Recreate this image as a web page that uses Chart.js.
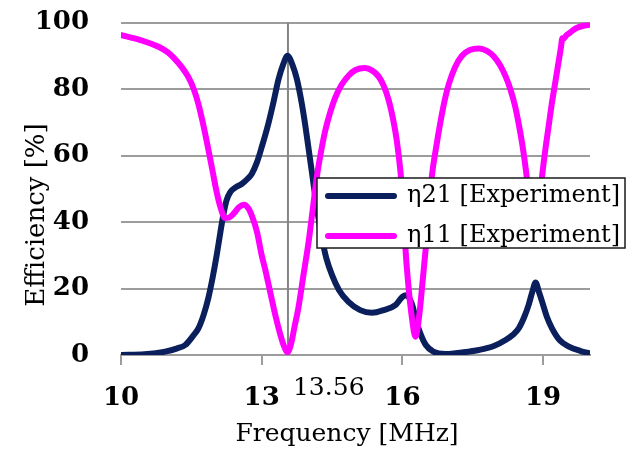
<!DOCTYPE html>
<html>
<head>
<meta charset="utf-8">
<script src="https://cdn.jsdelivr.net/npm/chart.js@4.4.1/dist/chart.umd.min.js"></script>
<style>
  html, body { margin: 0; padding: 0; background: #ffffff; }
  #wrap { width: 635px; height: 453px; }
</style>
</head>
<body>
<div id="wrap"><canvas id="chart" width="635" height="453"></canvas></div>
<script>
// Measured transmission efficiency (η21) versus frequency
const eta21Freq = [10.0, 10.5, 10.94, 11.2, 11.37, 11.55, 11.65, 11.76, 11.86, 11.95, 12.04, 12.12, 12.18, 12.25, 12.33, 12.45, 12.58, 12.7, 12.79, 12.9, 13.0, 13.14, 13.25, 13.36, 13.46, 13.55, 13.65, 13.75, 13.85, 13.93, 14.0, 14.07, 14.18, 14.28, 14.38, 14.5, 14.65, 14.85, 15.1, 15.35, 15.6, 15.85, 16.0, 16.08, 16.2, 16.3, 16.38, 16.5, 16.66, 16.92, 17.3, 17.63, 17.95, 18.2, 18.35, 18.48, 18.6, 18.69, 18.77, 18.84, 18.91, 18.98, 19.08, 19.19, 19.35, 19.55, 19.8, 20.0];
const eta21 = [0, 0.2, 1, 2, 3, 6, 8, 12, 17, 23, 30, 37, 42, 46.5, 49, 50.5, 51.5, 53, 54.5, 58, 62.5, 69.5, 76, 83, 87.5, 90, 87.5, 83, 76, 69, 62, 55, 44, 35.5, 29, 24, 19.5, 16, 13.5, 12.7, 13.5, 15, 17.5, 18, 15.5, 10, 6.6, 3, 1, 0.3, 0.8, 1.5, 2.7, 4.5, 6, 8, 11.5, 15, 19, 21.8, 19, 16, 11.5, 8, 4.5, 2.5, 1.2, 0.5];

// Measured reflection efficiency (η11) versus frequency
const eta11Freq = [10.0, 10.4, 10.8, 11.0, 11.15, 11.3, 11.44, 11.55, 11.65, 11.75, 11.86, 11.95, 12.04, 12.12, 12.22, 12.3, 12.4, 12.52, 12.62, 12.72, 12.8, 12.9, 13.0, 13.07, 13.18, 13.29, 13.4, 13.48, 13.55, 13.62, 13.7, 13.78, 13.89, 14.0, 14.09, 14.18, 14.27, 14.35, 14.46, 14.57, 14.7, 14.85, 15.0, 15.2, 15.35, 15.49, 15.6, 15.71, 15.8, 15.88, 15.96, 16.01, 16.06, 16.12, 16.2, 16.28, 16.36, 16.43, 16.49, 16.56, 16.63, 16.72, 16.81, 16.9, 16.99, 17.12, 17.27, 17.45, 17.63, 17.8, 17.95, 18.08, 18.2, 18.3, 18.4, 18.48, 18.56, 18.63, 18.7, 18.76, 18.82, 18.88, 18.93, 18.98, 19.05, 19.12, 19.19, 19.26, 19.34, 19.38, 19.41, 19.44, 19.5, 19.55, 19.65, 19.76, 19.88, 20.0];
const eta11 = [96.2, 94.8, 92.7, 91, 89, 86.5, 83.5, 80, 75.5, 69.5, 62, 55.5, 49, 44.5, 41.2, 41.3, 42.5, 44.5, 45.2, 44, 41.5, 37, 30, 26, 19, 12, 6, 2.5, 0.8, 3, 8.5, 14, 24, 34, 44, 54, 61.5, 67.2, 73, 77.5, 81.2, 84, 85.7, 86.3, 85.6, 83.8, 81, 76.5, 71, 64.5, 55, 46, 33, 22, 11.5, 5.5, 12, 22, 31, 42, 54, 62.5, 70, 76.5, 81.5, 86.5, 90, 91.8, 92.2, 91.5, 89.8, 87.2, 83.8, 80, 75, 69.5, 63, 56, 47.5, 41.5, 37.5, 41, 47, 54, 62, 69, 76, 82, 89, 92.5, 95.3, 95.2, 96.2, 96.7, 97.8, 98.6, 99.1, 99.3];

const xTicks = [10, 13, 16, 19];
const yTicks = [0, 20, 40, 60, 80, 100];
const markerFreq = 13.56;
const markerLabel = '13.56';
const seriesNames = ['η21 [Experiment]', 'η11 [Experiment]'];
const seriesColors = ['#0b1f5c', '#ff00ff'];
const xTitle = 'Frequency [MHz]';
const yTitle = 'Efficiency [%]';

const FONT = "'DejaVu Serif', 'Liberation Serif', serif";
const TEXT = '#000000';
const GRID = '#9c9c9c';

function pairs(xs, ys) {
  return xs.map((x, i) => ({ x: x, y: ys[i] }));
}

// Vertical reference line at the operating frequency, behind the curves
const markerLine = {
  id: 'markerLine',
  beforeDatasetsDraw(chart) {
    const { ctx, chartArea, scales } = chart;
    const px = scales.x.getPixelForValue(markerFreq);
    ctx.save();
    ctx.strokeStyle = '#858585';
    ctx.lineWidth = 2;
    ctx.beginPath();
    ctx.moveTo(px, chartArea.top);
    ctx.lineTo(px, chartArea.bottom);
    ctx.stroke();
    ctx.restore();
  }
};

// Axis titles, marker label and boxed legend
const decorations = {
  id: 'decorations',
  afterDraw(chart) {
    const { ctx, scales } = chart;
    ctx.save();
    ctx.fillStyle = TEXT;

    // marker value under the axis
    const px = scales.x.getPixelForValue(markerFreq);
    ctx.font = '25px ' + FONT;
    ctx.textAlign = 'left';
    ctx.textBaseline = 'middle';
    ctx.fillText(markerLabel, px + 5, 388);

    // x title
    ctx.font = '25px ' + FONT;
    ctx.textAlign = 'center';
    ctx.fillText(xTitle, 347, 434);

    // y title
    ctx.save();
    ctx.translate(37, 215);
    ctx.rotate(-Math.PI / 2);
    ctx.font = '26px ' + FONT;
    ctx.textAlign = 'center';
    ctx.textBaseline = 'middle';
    ctx.fillText(yTitle, 0, 0);
    ctx.restore();

    // legend
    const bx = 317, by = 178, bw = 308, bh = 70;
    ctx.fillStyle = '#ffffff';
    ctx.fillRect(bx, by, bw, bh);
    ctx.strokeStyle = '#1a1a1a';
    ctx.lineWidth = 1.5;
    ctx.strokeRect(bx, by, bw, bh);
    const rows = [196, 236];
    ctx.font = '24px ' + FONT;
    ctx.textAlign = 'left';
    ctx.textBaseline = 'middle';
    chart.data.datasets.forEach((ds, i) => {
      const ry = rows[i];
      ctx.strokeStyle = ds.borderColor;
      ctx.lineWidth = 6;
      ctx.lineCap = 'round';
      ctx.beginPath();
      ctx.moveTo(328, ry);
      ctx.lineTo(394, ry);
      ctx.stroke();
      ctx.fillStyle = TEXT;
      ctx.fillText(ds.label, 407, ry);
    });
    ctx.restore();
  }
};

new Chart(document.getElementById('chart'), {
  type: 'line',
  data: {
    datasets: [
      {
        label: seriesNames[0],
        data: pairs(eta21Freq, eta21),
        borderColor: seriesColors[0],
        order: 1
      },
      {
        label: seriesNames[1],
        data: pairs(eta11Freq, eta11),
        borderColor: seriesColors[1],
        order: 0
      }
    ]
  },
  options: {
    responsive: false,
    devicePixelRatio: 1,
    animation: false,
    parsing: false,
    layout: { padding: { left: 0, right: 45, top: 22.5, bottom: 0 } },
    elements: {
      point: { radius: 0 },
      line: {
        borderWidth: 6,
        cubicInterpolationMode: 'monotone',
        borderCapStyle: 'round',
        borderJoinStyle: 'round',
        fill: false
      }
    },
    plugins: {
      legend: { display: false },
      tooltip: { enabled: false }
    },
    scales: {
      x: {
        type: 'linear',
        min: 10,
        max: 20,
        afterBuildTicks(scale) {
          scale.ticks = xTicks.map(v => ({ value: v }));
        },
        afterFit(scale) { scale.height = 98; },
        grid: {
          drawOnChartArea: false,
          drawTicks: true,
          tickLength: 10,
          color: GRID,
          lineWidth: 2
        },
        border: { display: true, color: GRID, width: 2 },
        ticks: {
          color: TEXT,
          padding: 18,
          maxRotation: 0,
          font: { family: FONT, size: 26, weight: 'bold', lineHeight: 1.2 }
        }
      },
      y: {
        min: 0,
        max: 100,
        afterBuildTicks(scale) {
          scale.ticks = yTicks.map(v => ({ value: v }));
        },
        afterFit(scale) {
          scale.width = 121;
          scale.paddingTop = 0;
          scale.paddingBottom = 0;
        },
        grid: {
          drawTicks: false,
          color: GRID,
          lineWidth: 2
        },
        border: { display: false },
        ticks: {
          color: TEXT,
          padding: 32,
          font: { family: FONT, size: 26, weight: 'bold', lineHeight: 1.2 }
        }
      }
    }
  },
  plugins: [markerLine, decorations]
});
</script>
</body>
</html>
